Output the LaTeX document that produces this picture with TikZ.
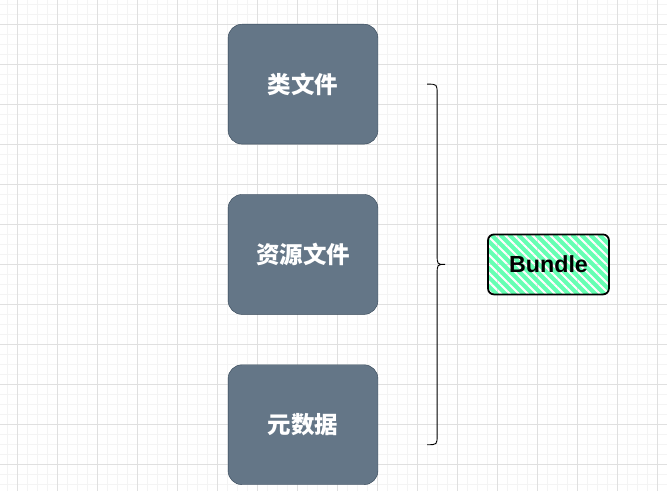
\documentclass[tikz,border=0pt]{standalone}
\usepackage{fontspec}
\setmainfont{Liberation Sans}
\newfontfamily\cjk{Noto Sans CJK SC}
\usetikzlibrary{positioning,calc}

\definecolor{slate}{HTML}{647687}
\definecolor{slateline}{HTML}{314354}
\definecolor{mint}{HTML}{66FFB3}
\definecolor{gridminor}{HTML}{F4F4F4}
\definecolor{gridmajor}{HTML}{E0E0E0}

\begin{document}
\begin{tikzpicture}[
        x=1pt, y=1pt,
        node distance=50pt,
        box/.style={
            rectangle,
            rounded corners=14pt,
            minimum width=150pt,
            minimum height=120pt,
            fill=slate,
            draw=slateline,
            text=white,
            font=\cjk\bfseries\fontsize{23.5}{26}\selectfont,
        },
        bundle/.style={
            rectangle,
            rounded corners=6pt,
            minimum width=121pt,
            minimum height=60pt,
            draw=black,
            line width=1.8pt,
            font=\bfseries\fontsize{23.3}{26}\selectfont,
            path picture={
                \foreach \k in {-9,...,22}
                    \draw[mint, line width=4pt]
                        ([xshift=\k*9pt-60pt]path picture bounding box.north west) -- ++(75pt,-75pt);
            },
        },
        brace/.style={
            line width=0.9pt,
        },
    ]
        % grid background
        \fill[white] (0,0) rectangle (667,-491);
        \foreach \x in {7.3,17.3,...,667} \draw[gridminor] (\x,0) -- (\x,-491);
        \foreach \y in {4.3,14.3,...,491} \draw[gridminor] (0,-\y) -- (667,-\y);
        \foreach \x in {17.3,57.3,...,667} \draw[gridmajor] (\x,0) -- (\x,-491);
        \foreach \y in {24.3,64.3,...,491} \draw[gridmajor] (0,-\y) -- (667,-\y);
        \useasboundingbox (0,0) rectangle (667,-491);

        \node [box] (cls) at (303,-84) {类文件};
        \node [box, below=of cls] (res) {资源文件};
        \node [box, below=of res] (meta) {元数据};

        % brace
        \coordinate (bt) at ([xshift=49pt]cls.east);
        \coordinate (bb) at ([xshift=49pt,yshift=-20pt]meta.east);
        \coordinate (tip) at ($(bt)!0.5!(bb)+(18pt,0)$);
        \draw [brace] (bt) .. controls ++(10pt,0) .. ++(10pt,-10pt)
            -- ($(tip)+(-8pt,10pt)$) .. controls ++(0,-10pt) .. (tip)
            .. controls ++(-8pt,0) .. ++(-8pt,-10pt)
            -- ($(bb)+(10pt,10pt)$) .. controls ++(0,-10pt) .. (bb);

        \node [bundle, right=42pt of tip] (bundle) {Bundle};
    \end{tikzpicture}
\end{document}
